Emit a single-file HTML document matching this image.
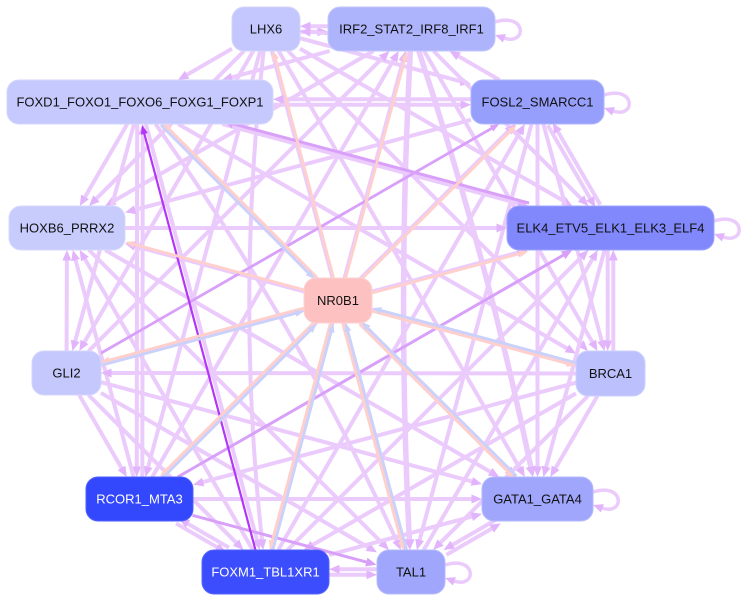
<!DOCTYPE html>
<html><head><meta charset="utf-8"><style>
html,body{margin:0;padding:0;background:#fff;}
svg{display:block;}
text{font-family:"Liberation Sans",Arial,sans-serif;font-size:13px;}
</style></head><body>
<svg id="s" width="745" height="602" viewBox="0 0 745 602" xmlns="http://www.w3.org/2000/svg">
<rect width="745" height="602" fill="#fff"/>
<g id="edges"></g>
<g id="nodes">
<rect x="232" y="7" width="68" height="44" rx="12" fill="#c3c7fd" stroke="#d3d6fd"/>
<text x="266" y="33.5" text-anchor="middle" fill="#111">LHX6</text>
<rect x="328" y="7" width="167" height="44" rx="12" fill="#aeb4fc" stroke="#c2c7fd"/>
<text x="411.5" y="33.5" text-anchor="middle" fill="#111">IRF2_STAT2_IRF8_IRF1</text>
<rect x="7" y="80" width="266" height="44" rx="12" fill="#c5c9fd" stroke="#d3d6fd"/>
<text x="140" y="106.5" text-anchor="middle" fill="#111">FOXD1_FOXO1_FOXO6_FOXG1_FOXP1</text>
<rect x="471" y="80" width="133" height="44" rx="12" fill="#979ffc" stroke="#b0b6fc"/>
<text x="537.5" y="106.5" text-anchor="middle" fill="#111">FOSL2_SMARCC1</text>
<rect x="9" y="206" width="116" height="44" rx="12" fill="#c8ccfc" stroke="#d6d8fd"/>
<text x="67" y="232.5" text-anchor="middle" fill="#111">HOXB6_PRRX2</text>
<rect x="507" y="206" width="207" height="44" rx="12" fill="#8188fc" stroke="#9ea4fc"/>
<text x="610.5" y="232.5" text-anchor="middle" fill="#111">ELK4_ETV5_ELK1_ELK3_ELF4</text>
<rect x="304" y="278" width="68" height="45" rx="12" fill="#fdc1c1" stroke="#fdd2d2"/>
<text x="338" y="305" text-anchor="middle" fill="#111">NR0B1</text>
<rect x="32" y="351" width="69" height="44" rx="12" fill="#c4c8fc" stroke="#d3d6fd"/>
<text x="66.5" y="377.5" text-anchor="middle" fill="#111">GLI2</text>
<rect x="576" y="351" width="69" height="45" rx="12" fill="#bcc1fd" stroke="#cdd0fd"/>
<text x="610.5" y="378" text-anchor="middle" fill="#111">BRCA1</text>
<rect x="86" y="477" width="107" height="44" rx="12" fill="#3347fc" stroke="#5060fc"/>
<text x="139.5" y="503.5" text-anchor="middle" fill="#fff">RCOR1_MTA3</text>
<rect x="482" y="477" width="111" height="44" rx="12" fill="#9fa6fc" stroke="#b5bafc"/>
<text x="537.5" y="503.5" text-anchor="middle" fill="#111">GATA1_GATA4</text>
<rect x="202" y="550" width="127" height="44" rx="12" fill="#3b4dfc" stroke="#5565fc"/>
<text x="265.5" y="576.5" text-anchor="middle" fill="#fff">FOXM1_TBL1XR1</text>
<rect x="377" y="550" width="68" height="44" rx="12" fill="#a0a6fc" stroke="#b6bbfc"/>
<text x="411" y="576.5" text-anchor="middle" fill="#111">TAL1</text>
</g>
</svg>
<script>
(function(){
var nodes={A:[266,29,68,44],B:[411.5,29,167,44],C:[140,102,266,44],D:[537.5,102,133,44],E:[67,228,116,44],F:[610.5,228,207,44],N:[338,300.5,68,45],G:[66.5,373,69,44],H:[610.5,373.5,69,45],I:[139.5,499,107,44],J:[537.5,499,111,44],K:[265.5,572,127,44],L:[411,572,68,44]};
var LP='#ebcbfc',LPA='#e2b4fc',PK='#ffd0cb',BL='#cad1fa',DK='#b236f8',MD='#d9a0fa';
var g=document.getElementById('edges');var NS='http://www.w3.org/2000/svg';
function el(t,a){var e=document.createElementNS(NS,t);for(var k in a)e.setAttribute(k,a[k]);g.appendChild(e);return e;}
function cl(n,ux,uy){return Math.min(n[2]/2/Math.max(Math.abs(ux),1e-6),n[3]/2/Math.max(Math.abs(uy),1e-6));}
function nrm(x,y){var l=Math.hypot(x,y);return [x/l,y/l];}
function arrow(tx,ty,ux,uy,col,AL,AW){var px=-uy,py=ux;var bx=tx-ux*AL,by=ty-uy*AL;
el('polygon',{points:tx+','+ty+' '+(bx+px*AW/2)+','+(by+py*AW/2)+' '+(bx-px*AW/2)+','+(by-py*AW/2),fill:col});}
function edge(s,t,o,col,w,curv,acol){o=o||0;col=col||LP;w=w||4;curv=curv||0;acol=acol||(col==LP?LPA:col);
var S=nodes[s],T=nodes[t];var u=nrm(T[0]-S[0],T[1]-S[1]);var px=-u[1],py=u[0];
var sx=S[0]+px*o,sy=S[1]+py*o,tx=T[0]+px*o,ty=T[1]+py*o;
var AL=w<3?9:10.5,AW=w<3?7:(w>4.5?10.5:9);
if(!curv){var a=cl(S,u[0],u[1]),b=cl(T,u[0],u[1]);
var p0x=sx+u[0]*a,p0y=sy+u[1]*a,p1x=tx-u[0]*b,p1y=ty-u[1]*b;
el('line',{x1:p0x,y1:p0y,x2:p1x-u[0]*AL*0.9,y2:p1y-u[1]*AL*0.9,stroke:col,'stroke-width':w});
arrow(p1x,p1y,u[0],u[1],acol,AL,AW);}
else{var cx=(S[0]+T[0])/2+px*(o+curv),cy=(S[1]+T[1])/2+py*(o+curv);
var d0=nrm(cx-sx,cy-sy),d1=nrm(tx-cx,ty-cy);var a2=cl(S,d0[0],d0[1]),b2=cl(T,d1[0],d1[1]);
var q0x=sx+d0[0]*a2,q0y=sy+d0[1]*a2,q1x=tx-d1[0]*b2,q1y=ty-d1[1]*b2;
el('path',{d:'M'+q0x+','+q0y+' Q'+cx+','+cy+' '+(q1x-d1[0]*AL*0.9)+','+(q1y-d1[1]*AL*0.9),fill:'none',stroke:col,'stroke-width':w});
arrow(q1x,q1y,d1[0],d1[1],acol,AL,AW);}}
function loop(n){var N=nodes[n];var xr=N[0]+N[2]/2,cy=N[1];
el('path',{d:'M'+xr+','+(cy-7)+' C'+(xr+32)+','+(cy-17)+' '+(xr+32)+','+(cy+17)+' '+(xr+9)+','+(cy+9),fill:'none',stroke:LP,'stroke-width':3.5});
arrow(xr,cy+6,-0.94,-0.33,LPA,10,9);}
var list=[
['A','B','d'],['A','C','>'],['A','D','>'],['A','E','>'],['A','F','>'],['A','G','>'],['A','H','>'],['A','I','>'],['A','J','>'],['A','K','>',0,30],['A','L','>'],
['B','C','>'],['B','D','<'],['B','E','>'],['B','F','>'],['B','G','<'],['B','H','>'],['B','I','<'],['B','J','>',5.5,-14],['B','K','<'],['B','L','>',5.5,14],
['C','D','d'],['C','E','>'],['C','F','>'],['C','G','>'],['C','H','>'],['C','I','d'],['C','J','>'],['C','K','>'],['C','L','>',0,-25],
['D','E','>'],['D','F','d'],['D','H','>'],['D','I','<'],['D','J','>'],['D','K','<'],['D','L','>'],
['E','F','>'],['E','G','<'],['E','H','<'],['E','I','<'],['E','J','>'],['E','K','<'],['E','L','>'],
['F','G','<'],['F','H','d'],['F','J','>'],['F','K','<'],['F','L','<'],
['G','H','<'],['G','I','>'],['G','J','>'],['G','K','>'],['G','L','>'],
['H','I','>'],['H','J','>'],['H','K','>'],['H','L','>'],
['I','J','>'],['I','K','d'],['J','K','<'],['J','L','d'],['K','L','d'],['B','A','>',3.5,-5]
];
list.forEach(function(e){var w=e[3]||4,c=e[4]||0;
if(e[2]=='d'){edge(e[0],e[1],2.8,LP,w,c);edge(e[1],e[0],2.8,LP,w,c);}
else if(e[2]=='>')edge(e[0],e[1],0,LP,w,c);else edge(e[1],e[0],0,LP,w,c);});
edge('I','F',0,MD,3);edge('I','L',2,MD,3);edge('G','D',0,MD,2.8);edge('F','C',3,MD,3);
edge('K','C',-4,DK,2.2);
['A','B','C','D','E','F','G','H','I','J','K','L'].forEach(function(x){edge('N',x,1.5,PK,2.8);});
['C','G','H','I','J','K','L'].forEach(function(x){edge(x,'N',1.5,BL,2.8);});
['B','D','F','J','L'].forEach(loop);
})();
</script>
</body></html>
